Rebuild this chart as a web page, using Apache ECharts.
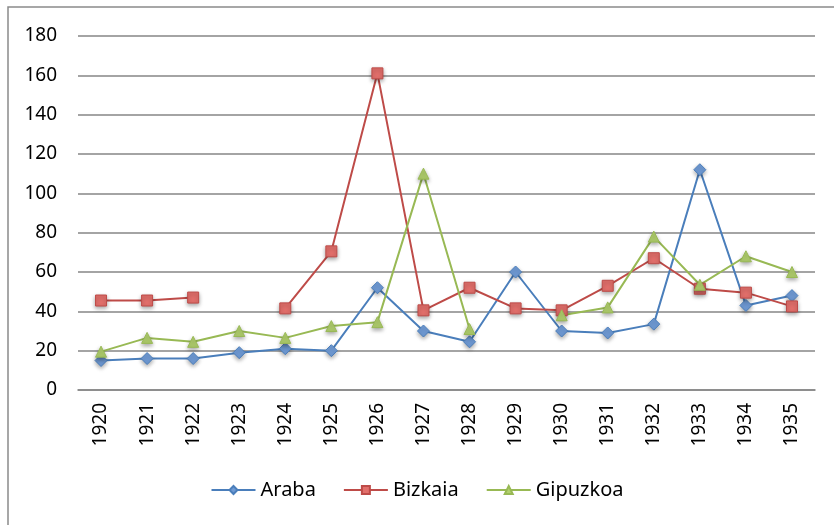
<!DOCTYPE html>
<html>
<head>
<meta charset="utf-8">
<script src="https://cdn.jsdelivr.net/npm/echarts@6/dist/echarts.min.js"></script>
<style>
  html, body { margin: 0; padding: 0; background: #fff; }
  #chart { width: 834px; height: 525px; }
</style>
</head>
<body>
<div id="chart"></div>
<script>
// years on the x axis
const years = ['1920', '1921', '1922', '1923', '1924', '1925', '1926', '1927',
  '1928', '1929', '1930', '1931', '1932', '1933', '1934', '1935'];

// series values (null = no value for that year)
const araba = [15, 16, 16, 19, 21, 20, 52, 30, 24.5, 60, 30, 29, 33.5, 112, 43, 48];
const bizkaia = [45.5, 45.5, 47, null, 41.5, 70.5, 161, 40.5, 52, 41.5, 40.5, 53, 67, 51.5, 49.5, 42.5];
const gipuzkoa = [19.5, 26.5, 24.5, 30, 26.5, 32.5, 34.5, 110, 31, null, 38, 42, 78, 53.5, 68, 60];

const FONT = 'Noto Sans';
const gridColor = '#868686';

const chart = echarts.init(document.getElementById('chart'));

// helper for one line series
const makeSeries = (name, data, symbol, lineColor, fillColor) => ({
  name: name,
  type: 'line',
  data: data,
  symbol: symbol,
  symbolSize: symbol === 'diamond' ? 12 : 11,
  connectNulls: false,
  lineStyle: { color: lineColor, width: 2 },
  itemStyle: {
    color: fillColor,
    borderColor: lineColor,
    borderWidth: 1,
    shadowColor: 'rgba(0,0,0,0.35)',
    shadowBlur: 4,
    shadowOffsetY: 2
  },
  emphasis: { disabled: true }
});

chart.setOption({
  animation: false,
  textStyle: { fontFamily: FONT },
  graphic: [
    {
      // outer chart border (top + left visible)
      type: 'rect',
      shape: { x: 8, y: 7, width: 900, height: 600 },
      style: { fill: 'none', stroke: '#8a8a8a', lineWidth: 1.5 },
      silent: true
    }
  ],
  grid: { left: 78, right: 19, top: 36, bottom: 135 },
  legend: {
    bottom: 20,
    left: 'center',
    itemWidth: 44,
    itemHeight: 10,
    itemGap: 27,
    textStyle: { fontFamily: FONT, fontSize: 20, color: '#000' },
    data: ['Araba', 'Bizkaia', 'Gipuzkoa']
  },
  xAxis: {
    type: 'category',
    data: years,
    boundaryGap: true,
    axisLine: { show: true, lineStyle: { color: gridColor, width: 1.6 } },
    axisTick: { show: false },
    axisLabel: {
      rotate: 90,
      margin: 13,
      fontFamily: FONT,
      fontSize: 19,
      color: '#000',
      interval: 0
    }
  },
  yAxis: {
    type: 'value',
    min: 0,
    max: 180,
    interval: 20,
    axisLine: { show: false },
    axisTick: { show: false },
    splitLine: { lineStyle: { color: gridColor, width: 1.6 } },
    axisLabel: {
      margin: 21,
      fontFamily: FONT,
      fontSize: 19,
      color: '#000'
    }
  },
  series: [
    makeSeries('Araba', araba, 'diamond', '#4a7ebb', '#6f9ad4'),
    makeSeries('Bizkaia', bizkaia, 'rect', '#be4b48', '#e26f6b'),
    makeSeries('Gipuzkoa', gipuzkoa, 'triangle', '#98b954', '#b2d06e')
  ]
});
</script>
</body>
</html>
